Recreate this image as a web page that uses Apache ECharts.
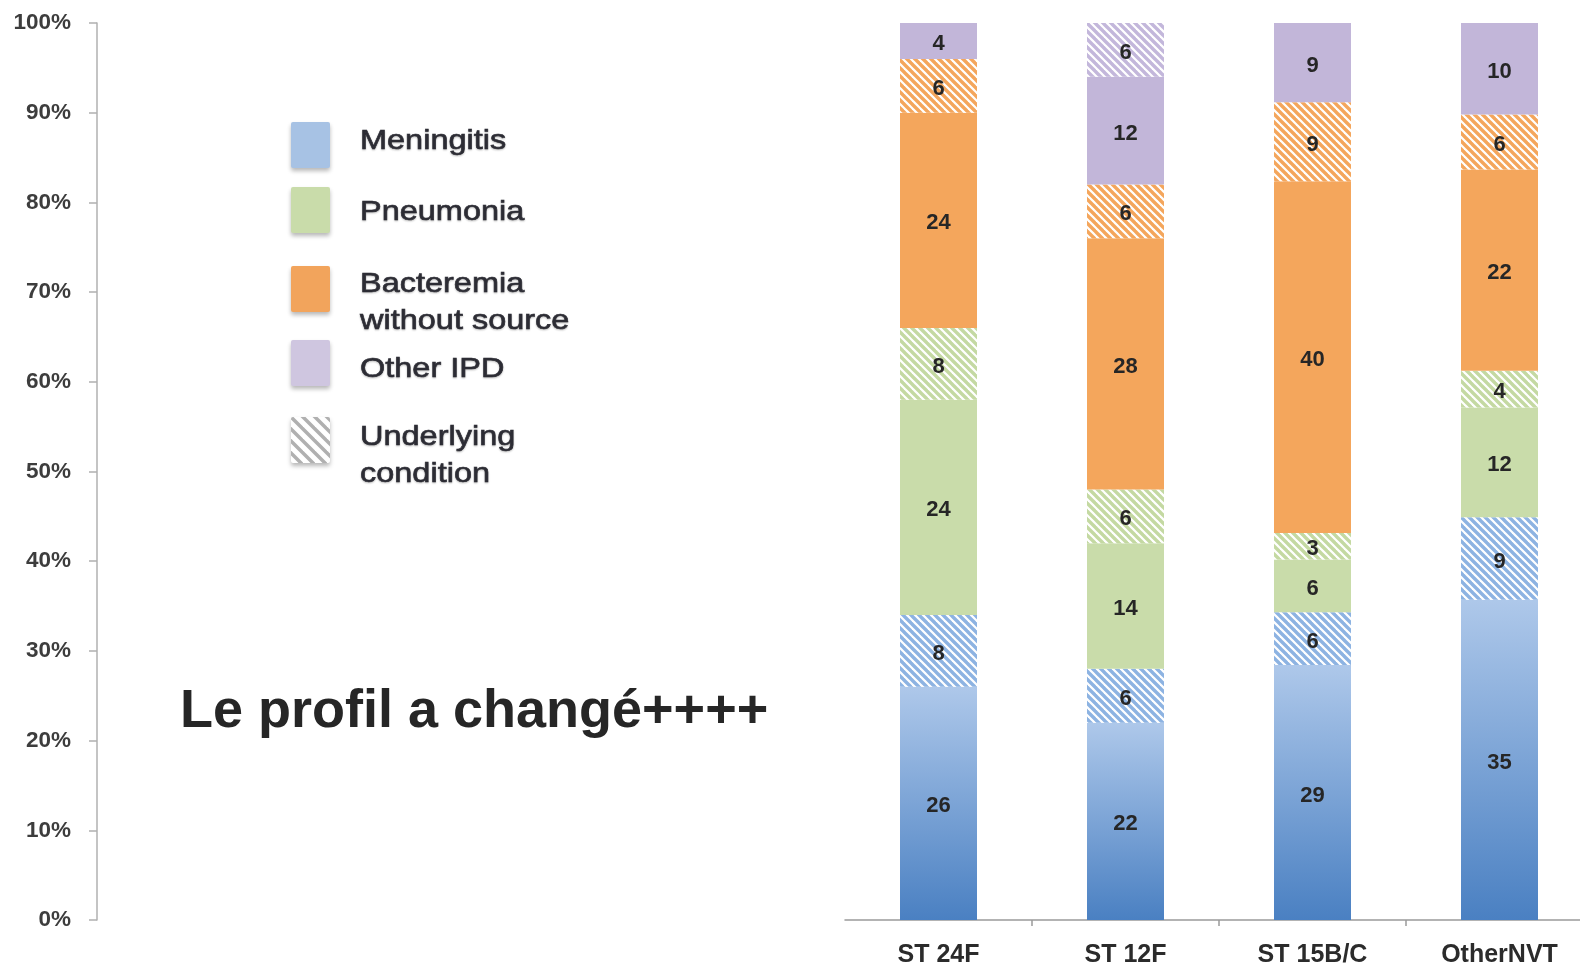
<!DOCTYPE html>
<html>
<head>
<meta charset="utf-8">
<script src="https://cdn.jsdelivr.net/npm/echarts@6/dist/echarts.min.js"></script>
<style>
  html, body { margin: 0; padding: 0; background: #ffffff; }
  #chart { width: 1580px; height: 965px; }
</style>
</head>
<body>
<div id="chart"></div>
<script>
// Serotype groups and case counts per clinical presentation
const categories = ['ST 24F', 'ST 12F', 'ST 15B/C', 'OtherNVT'];
const meningitis   = [26, 22, 29, 35];
const meningitisUC = [8, 6, 6, 9];
const pneumonia    = [24, 14, 6, 12];
const pneumoniaUC  = [8, 6, 3, 4];
const bacteremia   = [24, 28, 40, 22];
const bacteremiaUC = [6, 6, 9, 6];
const otherIPD     = [4, 12, 9, 10];
const otherIPDUC   = [null, 6, null, null];

const legendNames = [
  ['Meningitis'],
  ['Pneumonia'],
  ['Bacteremia', 'without source'],
  ['Other IPD'],
  ['Underlying', 'condition']
];
const titleText = 'Le profil a changé++++';

const FONT = '"Liberation Sans", Arial, Helvetica, sans-serif';

// diagonal stripe fill for "underlying condition" segments
function hatch(color, size, lw) {
  const c = document.createElement('canvas');
  c.width = size; c.height = size;
  const ctx = c.getContext('2d');
  ctx.fillStyle = '#ffffff';
  ctx.fillRect(0, 0, size, size);
  ctx.strokeStyle = color;
  ctx.lineWidth = lw;
  for (const off of [-size, 0, size]) {
    ctx.beginPath();
    ctx.moveTo(off - 2, -2);
    ctx.lineTo(off + size + 2, size + 2);
    ctx.stroke();
  }
  return { image: c, repeat: 'repeat' };
}

const blueGrad = new echarts.graphic.LinearGradient(0, 0, 0, 1, [
  { offset: 0, color: '#aec8ea' },
  { offset: 1, color: '#4a80c2' }
]);

const stackDefs = [
  { name: 'Meningitis', values: meningitis, color: blueGrad },
  { name: 'Meningitis (underlying condition)', values: meningitisUC, color: hatch('#8db3e2', 8, 3.4) },
  { name: 'Pneumonia', values: pneumonia, color: '#c9dcaa' },
  { name: 'Pneumonia (underlying condition)', values: pneumoniaUC, color: hatch('#c4d9a2', 8, 3.4) },
  { name: 'Bacteremia without source', values: bacteremia, color: '#f4a65c' },
  { name: 'Bacteremia (underlying condition)', values: bacteremiaUC, color: hatch('#f4a65c', 8, 3.4) },
  { name: 'Other IPD', values: otherIPD, color: '#c2b6d9' },
  { name: 'Other IPD (underlying condition)', values: otherIPDUC, color: hatch('#c3b7db', 8, 3.4) }
];

// each column is shown as a share of its own total
const totals = categories.map((_, i) =>
  stackDefs.reduce((s, d) => s + (d.values[i] || 0), 0));

const series = stackDefs.map(d => ({
  name: d.name,
  type: 'bar',
  stack: 'total',
  barWidth: 77,
  itemStyle: { color: d.color },
  label: {
    show: true,
    position: 'inside',
    offset: [0, 3],
    color: '#262626',
    fontFamily: FONT,
    fontWeight: 'bold',
    fontSize: 22,
    formatter: p => p.data.raw
  },
  emphasis: { disabled: true },
  data: d.values.map((v, i) => v == null ? '-' : { value: v / totals[i] * 100, raw: v })
}));

// legend drawn beside the y axis
const legendColors = ['#a7c2e4', '#c9dcaa', '#f2a45c', '#cfc6e0', hatch('#b0b0b0', 12, 3.5)];
const legendBoxY = [122, 187, 266, 340, 417];
const legendTextY = [[141], [212], [284, 321], [369], [437, 474]];

const graphic = [];
legendColors.forEach((col, k) => {
  graphic.push({
    type: 'rect',
    left: 291, top: legendBoxY[k],
    shape: { width: 39, height: 46, r: 2 },
    style: {
      fill: col,
      shadowBlur: 4, shadowOffsetY: 3, shadowColor: 'rgba(0,0,0,0.28)'
    },
    silent: true
  });
  legendNames[k].forEach((line, j) => {
    graphic.push({
      type: 'text',
      x: 360, y: legendTextY[k][j],
      scaleX: 1.16,
      style: {
        text: line,
        font: '28px ' + FONT,
        fill: '#2c2c34',
        stroke: '#2c2c34',
        lineWidth: 0.6,
        verticalAlign: 'middle',
        align: 'left',
        textShadowColor: 'rgba(0,0,0,0.22)',
        textShadowBlur: 2,
        textShadowOffsetY: 1
      },
      silent: true
    });
  });
});
graphic.push({
  type: 'text',
  x: 180, y: 712,
  style: {
    text: titleText,
    font: 'bold 54px ' + FONT,
    fill: '#262626',
    verticalAlign: 'middle',
    align: 'left'
  },
  silent: true
});

const chart = echarts.init(document.getElementById('chart'), null, { renderer: 'canvas' });
chart.setOption({
  animation: false,
  backgroundColor: '#ffffff',
  grid: {
    left: 845, top: 23, width: 748, height: 897,
    containLabel: false,
    outerBoundsMode: 'none'
  },
  xAxis: {
    type: 'category',
    data: categories,
    axisLine: { show: true, lineStyle: { color: '#9a9a9a', width: 1.5 } },
    axisTick: {
      show: true, length: 6,
      interval: i => i > 0,
      lineStyle: { color: '#9a9a9a', width: 1.5 }
    },
    axisLabel: {
      margin: 23,
      color: '#2b2b2b',
      fontFamily: FONT,
      fontWeight: 'bold',
      fontSize: 25
    }
  },
  yAxis: {
    type: 'value',
    min: 0, max: 100, interval: 10,
    position: 'left',
    offset: 748,
    axisLine: { show: true, lineStyle: { color: '#b0b0b0', width: 1.5 } },
    axisTick: { show: true, length: 8, lineStyle: { color: '#b0b0b0', width: 1.5 } },
    splitLine: { show: false },
    axisLabel: {
      margin: 26,
      formatter: '{value}%',
      color: '#3d3d3d',
      fontFamily: FONT,
      fontWeight: 'bold',
      fontSize: 22.5
    }
  },
  series: series,
  graphic: graphic
});
</script>
</body>
</html>
